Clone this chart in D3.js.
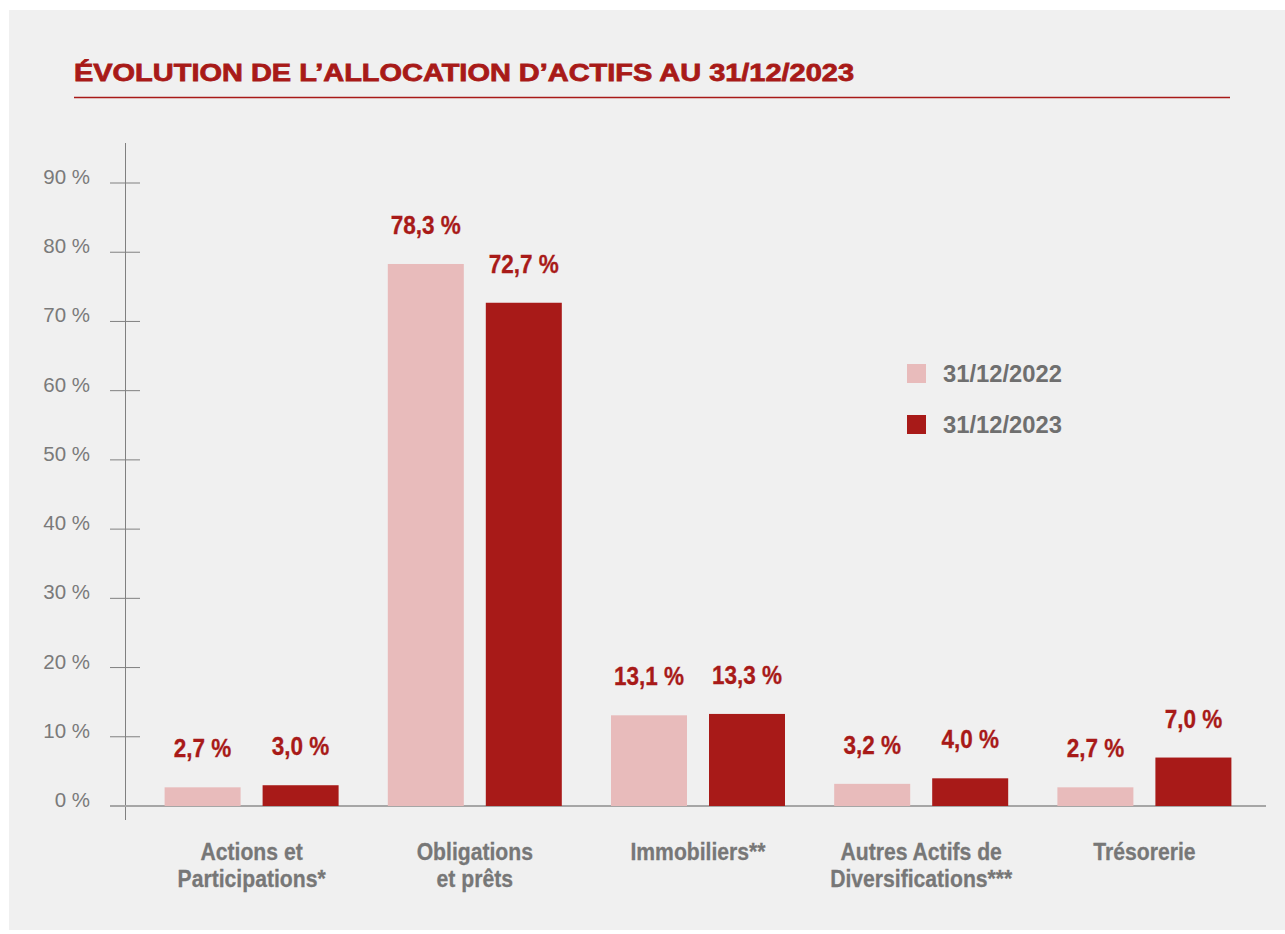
<!DOCTYPE html>
<html>
<head>
<meta charset="utf-8">
<script src="https://cdn.jsdelivr.net/npm/d3@7"></script>
<style>
  body { margin: 0; background: #fff; }
  svg { display: block; }
  text { font-family: "Liberation Sans", Arial, sans-serif; }
  .bold { font-weight: bold; }
</style>
</head>
<body>
<div id="chart"></div>
<script>
var categories = [["Actions et", "Participations*"], ["Obligations", "et prêts"], ["Immobiliers**"], ["Autres Actifs de", "Diversifications***"], ["Trésorerie"]];
var series = ["31/12/2022", "31/12/2023"];
var values2022 = [2.7, 78.3, 13.1, 3.2, 2.7];
var values2023 = [3.0, 72.7, 13.3, 4.0, 7.0];
var yTicks = [0, 10, 20, 30, 40, 50, 60, 70, 80, 90];
var colors = ["#e8bbbb", "#a81a18"];

var width = 1285, height = 934;
var svg = d3.select("#chart").append("svg")
    .attr("width", width)
    .attr("height", height);

// panel
svg.append("rect")
    .attr("x", 9).attr("y", 10)
    .attr("width", 1276).attr("height", 920)
    .style("fill", "#f0f0f0");

svg.append("text")
    .attr("class", "bold")
    .attr("x", 74).attr("y", 81)
    .attr("textLength", 780)
    .attr("lengthAdjust", "spacingAndGlyphs")
    .style("font-size", "24.5px")
    .style("fill", "#a81a18")
    .style("stroke", "#a81a18")
    .style("stroke-width", 0.8)
    .text("ÉVOLUTION DE L’ALLOCATION D’ACTIFS AU 31/12/2023");

svg.append("line")
    .attr("x1", 74).attr("x2", 1230)
    .attr("y1", 97.5).attr("y2", 97.5)
    .style("stroke", "#a81a18")
    .style("stroke-width", 1.5);

var y = d3.scaleLinear().domain([0, 90]).range([806, 183]);
var x0 = d3.scaleBand().domain(d3.range(categories.length)).range([140, 1256]);
var x1 = d3.scaleBand().domain([0, 1]).range([0, 174]).paddingInner(22 / 98);

// y axis
svg.append("line")
    .attr("x1", 125.5).attr("x2", 125.5)
    .attr("y1", 143).attr("y2", 820)
    .style("stroke", "#808080").style("stroke-width", 1);

var ticks = svg.selectAll(".tick")
    .data(yTicks)
    .enter().append("g")
    .attr("class", "tick")
    .attr("transform", function(d) { return "translate(0," + y(d) + ")"; });

ticks.append("line")
    .attr("x1", 110).attr("x2", 140)
    .style("stroke", "#808080").style("stroke-width", 1);

ticks.append("text")
    .attr("x", 90).attr("y", 1)
    .attr("text-anchor", "end")
    .style("font-size", "20.5px")
    .style("fill", "#7a7a7a")
    .text(function(d) { return d + " %"; });

// baseline
svg.append("line")
    .attr("x1", 110).attr("x2", 1266)
    .attr("y1", y(0)).attr("y2", y(0))
    .style("stroke", "#a6a6a6").style("stroke-width", 2);

var data = categories.map(function(c, i) {
    return { i: i, vals: [values2022[i], values2023[i]] };
});

var groups = svg.selectAll(".group")
    .data(data)
    .enter().append("g")
    .attr("class", "group")
    .attr("transform", function(d) { return "translate(" + (x0(d.i) + (x0.bandwidth() - 174) / 2) + ",0)"; });

groups.selectAll("rect")
    .data(function(d) { return d.vals; })
    .enter().append("rect")
    .attr("x", function(d, j) { return x1(j); })
    .attr("y", function(d) { return y(d); })
    .attr("width", x1.bandwidth())
    .attr("height", function(d) { return y(0) - y(d); })
    .style("fill", function(d, j) { return colors[j]; });

// value labels, narrowed to mimic a condensed face
groups.selectAll(".val")
    .data(function(d) { return d.vals; })
    .enter().append("g")
    .attr("class", "val")
    .attr("transform", function(d, j) {
        return "translate(" + (x1(j) + x1.bandwidth() / 2) + "," + (y(d) - 30) + ") scale(0.9,1)";
    })
    .append("text")
    .attr("class", "bold")
    .attr("text-anchor", "middle")
    .style("font-size", "25px")
    .style("fill", "#a81a18")
    .style("stroke", "#a81a18")
    .style("stroke-width", 0.3)
    .text(function(d) { return d.toFixed(1).replace(".", ",") + " %"; });

// category labels
var catLabels = svg.selectAll(".cat")
    .data(data)
    .enter().append("g")
    .attr("class", "cat")
    .attr("transform", function(d) { return "translate(" + (x0(d.i) + x0.bandwidth() / 2) + ",860) scale(0.9,1)"; })
    .append("text")
    .attr("class", "bold")
    .attr("text-anchor", "middle")
    .style("font-size", "23.5px")
    .style("fill", "#777")
    .style("stroke", "#777")
    .style("stroke-width", 0.3);

catLabels.selectAll("tspan")
    .data(function(d) { return categories[d.i]; })
    .enter().append("tspan")
    .attr("x", 0)
    .attr("dy", function(d, k) { return k === 0 ? 0 : 27; })
    .text(function(d) { return d; });

// legend
var legend = svg.selectAll(".legend")
    .data(series)
    .enter().append("g")
    .attr("class", "legend")
    .attr("transform", function(d, i) { return "translate(907," + (364 + i * 51) + ")"; });

legend.append("rect")
    .attr("width", 19).attr("height", 19)
    .style("fill", function(d, i) { return colors[i]; });

legend.append("text")
    .attr("class", "bold")
    .attr("x", 36).attr("y", 18)
    .attr("textLength", 119)
    .attr("lengthAdjust", "spacingAndGlyphs")
    .style("font-size", "23.5px")
    .style("fill", "#6f6f6f")
    .text(function(d) { return d; });
</script>
</body>
</html>
